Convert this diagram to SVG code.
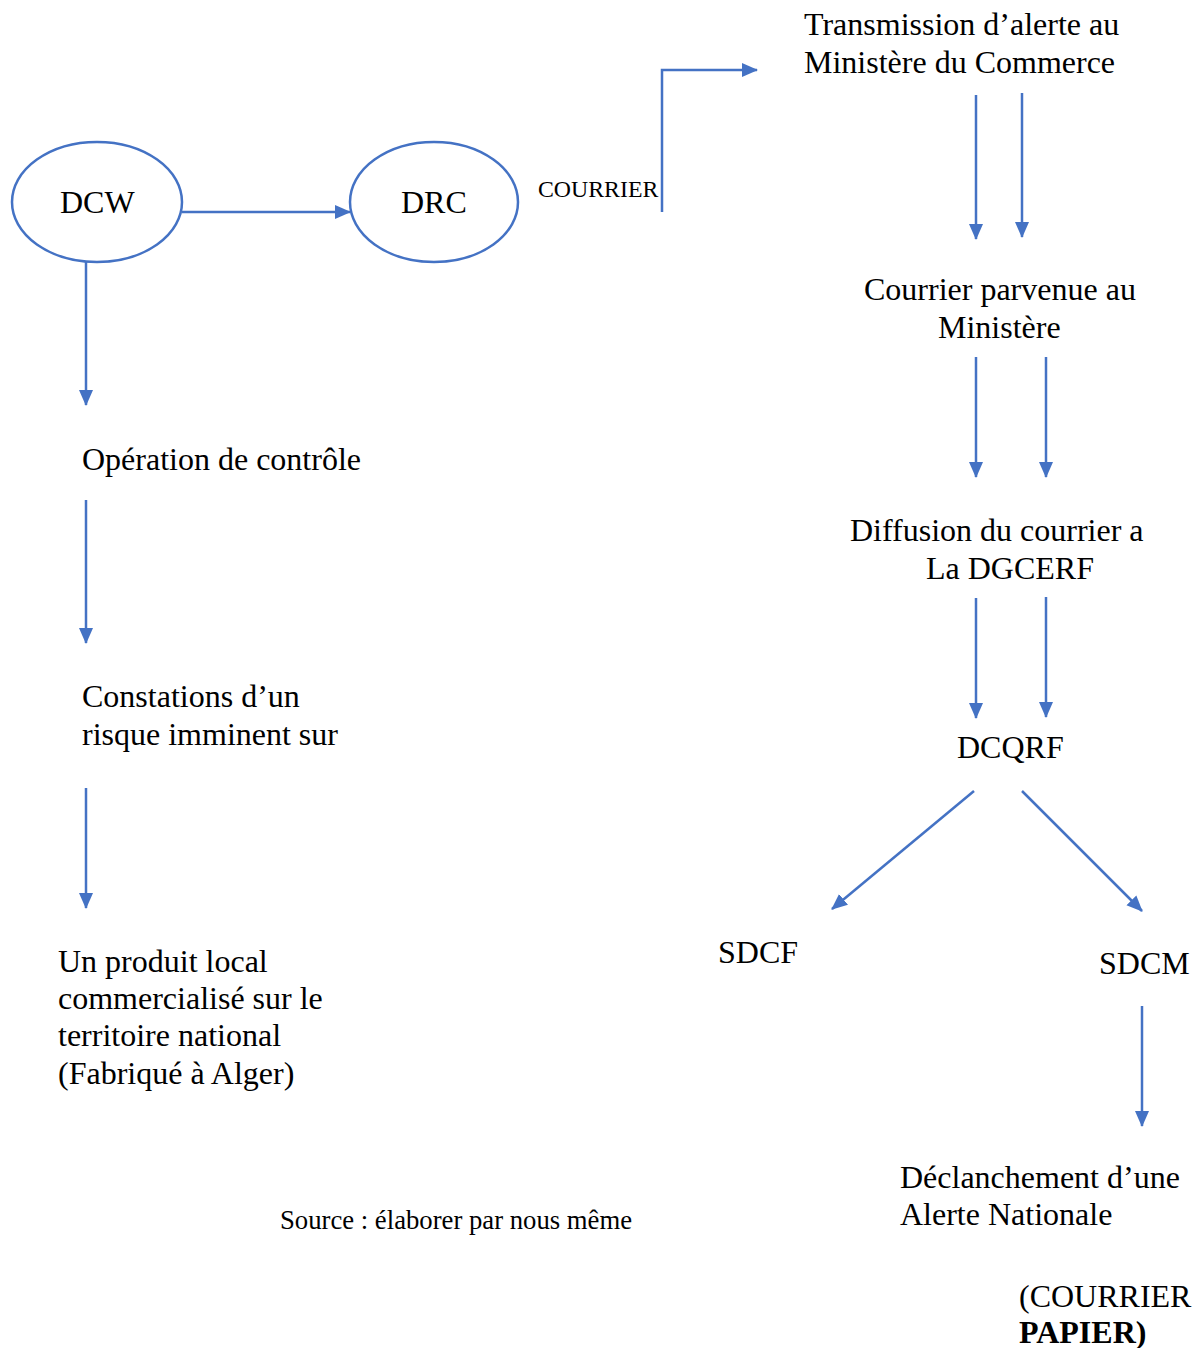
<svg xmlns="http://www.w3.org/2000/svg" width="1197" height="1348" viewBox="0 0 1197 1348">
  <style>
    text { font-family: "Liberation Serif", "Times New Roman", serif; fill: #000; }
    .t { font-size: 32px; }
    .s { font-size: 23.8px; }
    .src { font-size: 26.7px; }
    .b { font-weight: bold; }
    .node { fill: #fff; stroke: #4472C4; stroke-width: 2.5; }
    .link { fill: none; stroke: #4472C4; stroke-width: 2.5; marker-end: url(#head); }
  </style>
  <defs>
    <marker id="head" markerUnits="userSpaceOnUse" markerWidth="16" markerHeight="16" viewBox="0 0 16 16" refX="15" refY="8" orient="auto">
      <path d="M0,1 L16,8 L0,15 Z" fill="#4472C4"/>
    </marker>
  </defs>
  <rect width="1197" height="1348" fill="#fff"/>

  <!-- connectors -->
  <g id="connectors">
    <line class="link" x1="182" y1="212" x2="350" y2="212"/>
    <polyline class="link" points="662,212 662,70 757,70"/>
    <line class="link" x1="86" y1="262" x2="86" y2="405"/>
    <line class="link" x1="86" y1="500" x2="86" y2="643"/>
    <line class="link" x1="86" y1="788" x2="86" y2="908"/>
    <line class="link" x1="976" y1="95" x2="976" y2="239"/>
    <line class="link" x1="1022" y1="93" x2="1022" y2="237"/>
    <line class="link" x1="976" y1="357" x2="976" y2="477"/>
    <line class="link" x1="1046" y1="357" x2="1046" y2="477"/>
    <line class="link" x1="976" y1="598" x2="976" y2="718"/>
    <line class="link" x1="1046" y1="597" x2="1046" y2="717"/>
    <line class="link" x1="974" y1="791" x2="832" y2="909"/>
    <line class="link" x1="1022" y1="791" x2="1142" y2="911"/>
    <line class="link" x1="1142" y1="1006" x2="1142" y2="1126"/>
  </g>

  <g id="dcw">
    <ellipse class="node" cx="97" cy="202" rx="85" ry="60"/>
    <text class="t" x="60" y="213">DCW</text>
  </g>
  <g id="drc">
    <ellipse class="node" cx="434" cy="202" rx="84" ry="60"/>
    <text class="t" x="401" y="213">DRC</text>
  </g>
  <g id="courrier-label">
    <text class="s" x="538" y="197">COURRIER</text>
  </g>
  <g id="transmission">
    <text class="t" x="804" y="35">Transmission d’alerte au</text>
    <text class="t" x="804" y="73">Ministère du Commerce</text>
  </g>
  <g id="courrier-parvenue">
    <text class="t" x="864" y="300">Courrier parvenue au</text>
    <text class="t" x="938" y="338">Ministère</text>
  </g>
  <g id="diffusion">
    <text class="t" x="850" y="541">Diffusion du courrier a</text>
    <text class="t" x="926" y="579">La DGCERF</text>
  </g>
  <g id="dcqrf">
    <text class="t" x="957" y="758">DCQRF</text>
  </g>
  <g id="sdcf">
    <text class="t" x="718" y="963">SDCF</text>
  </g>
  <g id="sdcm">
    <text class="t" x="1099" y="974">SDCM</text>
  </g>
  <g id="alerte">
    <text class="t" x="900" y="1188">Déclanchement d’une</text>
    <text class="t" x="900" y="1225">Alerte Nationale</text>
  </g>
  <g id="courrier-papier">
    <text class="t" x="1019" y="1307">(COURRIER</text>
    <text class="t b" x="1019" y="1343">PAPIER)</text>
  </g>
  <g id="operation">
    <text class="t" x="82" y="470">Opération de contrôle</text>
  </g>
  <g id="constatations">
    <text class="t" x="82" y="707">Constations d’un</text>
    <text class="t" x="82" y="745">risque imminent sur</text>
  </g>
  <g id="produit">
    <text class="t" x="58" y="972">Un produit local</text>
    <text class="t" x="58" y="1009">commercialisé sur le</text>
    <text class="t" x="58" y="1046">territoire national</text>
    <text class="t" x="58" y="1084">(Fabriqué à Alger)</text>
  </g>
  <g id="source">
    <text class="src" x="280" y="1229">Source : élaborer par nous même</text>
  </g>
</svg>
